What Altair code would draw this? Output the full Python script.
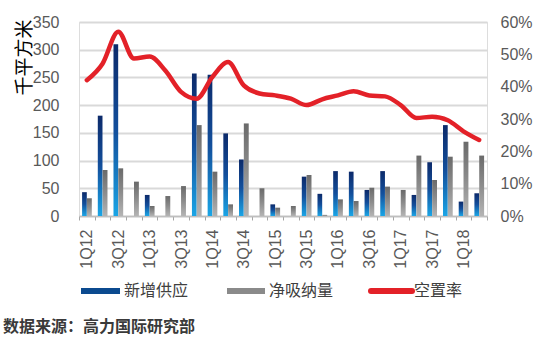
import altair as alt
import pandas as pd

quarters = ["1Q12","2Q12","3Q12","4Q12","1Q13","2Q13","3Q13","4Q13","1Q14","2Q14","3Q14","4Q14",
            "1Q15","2Q15","3Q15","4Q15","1Q16","2Q16","3Q16","4Q16","1Q17","2Q17","3Q17","4Q17",
            "1Q18","2Q18"]
supply = [43,181,310,0,38,0,0,257,255,149,102,0,21,0,71,40,81,80,47,81,0,38,97,164,26,41]
absorption = [32,83,86,62,18,36,54,164,80,21,167,50,15,18,74,2,30,27,51,53,47,109,65,107,134,109]
vacancy = [42.0,47.1,57.0,48.7,49.3,45.0,38.4,36.3,43.0,47.6,40.4,37.9,37.3,36.3,34.3,36.1,
           37.3,38.6,37.3,37.0,34.3,30.3,30.7,29.6,26.2,23.5]
x_labels = ["1Q12","3Q12","1Q13","3Q13","1Q14","3Q14","1Q15","3Q15","1Q16","3Q16","1Q17","3Q17","1Q18"]
left_ticks = [0,50,100,150,200,250,300,350]
right_ticks = [0,10,20,30,40,50,60]
legend_names = ["新增供应","净吸纳量","空置率"]
y_title = "千平方米"
source_text = "数据来源：高力国际研究部"

df = pd.DataFrame({"q": quarters, "supply": supply, "absorption": absorption, "vacancy": vacancy})

W, H = 408, 194
LAT = "Liberation Sans"
CJK = "Noto Sans CJK SC"

label_expr = "indexof(" + str(x_labels) + ", datum.value) >= 0 ? datum.value : ''"

x_enc = alt.X("q:N", sort=quarters, title=None,
              scale=alt.Scale(paddingInner=0, paddingOuter=0),
              axis=alt.Axis(labelAngle=-90, labelFontSize=16, labelFont=LAT, labelColor="#595959",
                            labelPadding=9, labelExpr=label_expr, domainColor="#bfbfbf", domainWidth=1.5,
                            tickBand="extent", tickColor="#a6a6a6", tickSize=4, grid=False,
                            labelBaseline="middle"))

blue_grad = alt.Gradient(gradient="linear", x1=0, x2=0, y1=0, y2=1,
                         stops=[alt.GradientStop(color="#0c2a6a", offset=0),
                                alt.GradientStop(color="#134f9c", offset=0.5),
                                alt.GradientStop(color="#1aa5e6", offset=1)])
gray_grad = alt.Gradient(gradient="linear", x1=0, x2=0, y1=0, y2=1,
                         stops=[alt.GradientStop(color="#6a6a6a", offset=0),
                                alt.GradientStop(color="#8c8c8c", offset=0.5),
                                alt.GradientStop(color="#b4b4b4", offset=1)])

yscale = alt.Scale(domain=[0, 350], nice=False)
y_axis = alt.Axis(values=left_ticks, grid=True, gridColor="#d9d9d9", gridWidth=2,
                  domain=False, ticks=False, labelFontSize=16, labelFont=LAT,
                  labelColor="#595959", labelPadding=20,
                  titleFont=CJK, titleFontSize=19, titleFontWeight="normal",
                  titleColor="#000000", titleAngle=-90, titleX=-55, titleY=35,
                  titleAlign="center", titleBaseline="middle")

blue = alt.Chart(df).mark_bar(color=blue_grad, width=4.7, xOffset=-2.4).encode(
    x=x_enc,
    y=alt.Y("supply:Q", scale=yscale, axis=y_axis, title=y_title),
)
gray = alt.Chart(df).mark_bar(color=gray_grad, width=4.9, xOffset=2.5).encode(
    x=x_enc,
    y=alt.Y("absorption:Q", scale=yscale, axis=y_axis, title=y_title),
)
bars = alt.layer(blue, gray)

line = alt.Chart(df).mark_line(color="#e32128", strokeWidth=4.5, interpolate="monotone",
                               strokeCap="round").encode(
    x=x_enc,
    y=alt.Y("vacancy:Q", scale=alt.Scale(domain=[0, 60], nice=False),
            axis=alt.Axis(orient="right", values=right_ticks, grid=False, domain=False, ticks=False,
                          labelExpr="datum.value + '%'", labelFontSize=16, labelFont=LAT,
                          labelColor="#595959", labelPadding=13, title=None)),
)

main = alt.layer(bars, line).resolve_scale(y="independent")

LY = 269
def swatch(x1, x2, color, cap="butt"):
    return alt.Chart(pd.DataFrame({"a": [0]})).mark_rule(strokeWidth=6, color=color, strokeCap=cap).encode(
        x=alt.value(x1), x2=alt.value(x2), y=alt.value(LY))

def label(x, txt, size=16, weight="normal", y=LY, color="#404040"):
    return alt.Chart(pd.DataFrame({"t": [txt]})).mark_text(
        align="left", baseline="middle", fontSize=size, font=CJK, color=color, fontWeight=weight
    ).encode(x=alt.value(x), y=alt.value(y), text="t:N")

legend = [
    swatch(2, 41, "#0b4a8f"), label(45, legend_names[0]),
    swatch(148, 186, "#8a8a8a"), label(190, legend_names[1]),
    swatch(292, 333, "#e32128", "round"), label(335, legend_names[2]),
    label(-76, source_text, size=16, weight="bold", y=305, color="#3a3a3a"),
]

chart = alt.layer(main, *legend).properties(
    width=W, height=H,
    autosize=alt.AutoSizeParams(type="none"),
    padding={"left": 79, "top": 22, "right": 550 - 79 - W, "bottom": 356 - 22 - H},
).configure_view(stroke=None).configure(background="white")

chart.save("out.html", embed_options={"renderer": "svg", "actions": False})
